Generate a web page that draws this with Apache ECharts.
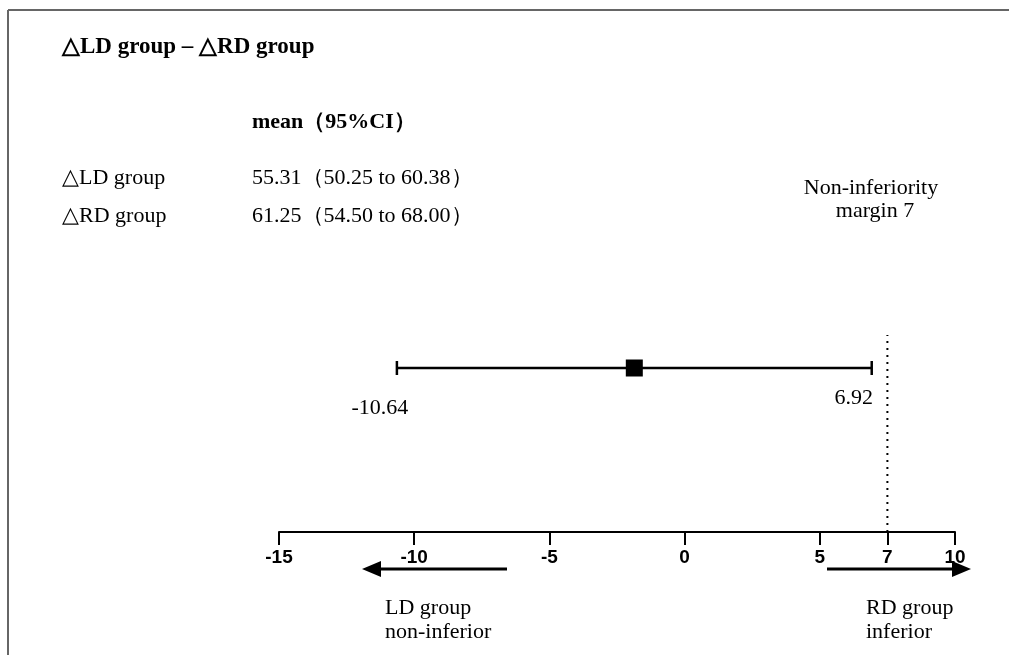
<!DOCTYPE html>
<html>
<head>
<meta charset="utf-8">
<script src="https://cdn.jsdelivr.net/npm/echarts@6/dist/echarts.min.js"></script>
<style>
  html, body { margin: 0; padding: 0; background: #fff; }
  #chart { width: 1009px; height: 655px; }
</style>
</head>
<body>
<div id="chart"></div>
<script>
// difference of the two group means, with its 95% CI
const meanDiff = -1.86;
const ciLow = -10.64;
const ciHigh = 6.92;
// the source draws the margin line a little right of 7 on the scale
const marginLabel = '7';
const marginPos = 7.5;
const tickValues = [-15, -10, -5, 0, 5, marginPos, 10];

const rowLabels = ['△LD group', '△RD group'];
const rowValues = ['55.31（50.25 to 60.38）', '61.25（54.50 to 68.00）'];

const rowY = 0.82; // height of the CI bar inside the plot

const chart = echarts.init(document.getElementById('chart'));
const serif = '"Liberation Serif", "Times New Roman", serif';

const textEl = (text, x, y, opts) => ({
  type: 'text',
  style: Object.assign({
    text: text, x: x, y: y,
    font: '22px ' + serif,
    fill: '#000',
    textVerticalAlign: 'middle'
  }, opts || {})
});

const option = {
  animation: false,
  backgroundColor: '#fff',
  grid: { left: 279, right: 54, top: 332, bottom: 123 },
  xAxis: {
    type: 'value',
    min: -15,
    max: 10,
    interval: 5,
    splitLine: { show: false },
    axisLine: { onZero: false, lineStyle: { color: '#000', width: 2 } },
    axisTick: { show: true, length: 13, customValues: tickValues, lineStyle: { color: '#000', width: 2 } },
    axisLabel: {
      customValues: tickValues,
      margin: 16,
      color: '#000',
      fontFamily: '"Liberation Sans", Arial, sans-serif',
      fontWeight: 'bold',
      fontSize: 19,
      formatter: v => (v === marginPos ? marginLabel : String(v))
    }
  },
  yAxis: { type: 'value', min: 0, max: 1, show: false },
  series: [
    {
      type: 'custom',
      data: [[ciLow, ciHigh, rowY]],
      renderItem: (params, api) => {
        const a = api.coord([api.value(0), api.value(2)]);
        const b = api.coord([api.value(1), api.value(2)]);
        const st = { stroke: '#000', lineWidth: 2.5 };
        return {
          type: 'group',
          children: [
            { type: 'line', shape: { x1: a[0], y1: a[1], x2: b[0], y2: b[1] }, style: st },
            { type: 'line', shape: { x1: a[0], y1: a[1] - 7, x2: a[0], y2: a[1] + 7 }, style: st },
            { type: 'line', shape: { x1: b[0], y1: b[1] - 7, x2: b[0], y2: b[1] + 7 }, style: st }
          ]
        };
      }
    },
    {
      type: 'scatter',
      symbol: 'rect',
      symbolSize: 17,
      itemStyle: { color: '#000', opacity: 1 },
      data: [[meanDiff, rowY]],
      z: 5
    },
    {
      type: 'scatter',
      symbolSize: 0,
      itemStyle: { opacity: 1 },
      data: [
        { value: [ciLow, rowY], label: { offset: [-17, 40] } },
        { value: [ciHigh, rowY], label: { offset: [-18, 30] } }
      ],
      label: {
        show: true,
        position: 'inside',
        formatter: p => p.value[0].toFixed(2),
        color: '#000',
        opacity: 1,
        fontFamily: serif,
        fontSize: 22
      }
    },
    {
      type: 'line',
      symbol: 'none',
      data: [[marginPos, 0], [marginPos, 0.985]],
      lineStyle: { color: '#000', width: 2, type: [2, 5] }
    }
  ],
  graphic: [
    { type: 'line', shape: { x1: 8, y1: 10, x2: 1009, y2: 10 }, style: { stroke: '#666', lineWidth: 2 } },
    { type: 'line', shape: { x1: 8, y1: 10, x2: 8, y2: 655 }, style: { stroke: '#666', lineWidth: 2 } },

    textEl('△LD group – △RD group', 62, 47, { font: 'bold 23px ' + serif }),
    textEl('mean（95%CI）', 252, 122, { font: 'bold 22px ' + serif }),
    textEl(rowLabels[0], 62, 178),
    textEl(rowLabels[1], 62, 216),
    textEl(rowValues[0], 252, 178),
    textEl(rowValues[1], 252, 216),

    textEl('Non-inferiority', 871, 188, { textAlign: 'center' }),
    textEl('margin ' + marginLabel, 875, 211, { textAlign: 'center' }),

    // direction arrows
    { type: 'line', shape: { x1: 507, y1: 569, x2: 376, y2: 569 }, style: { stroke: '#000', lineWidth: 3 } },
    { type: 'polygon', shape: { points: [[362, 569], [381, 561], [381, 577]] }, style: { fill: '#000' } },
    { type: 'line', shape: { x1: 827, y1: 569, x2: 956, y2: 569 }, style: { stroke: '#000', lineWidth: 3 } },
    { type: 'polygon', shape: { points: [[971, 569], [952, 561], [952, 577]] }, style: { fill: '#000' } },

    textEl('LD group', 385, 608),
    textEl('non-inferior', 385, 632),
    textEl('RD group', 866, 608),
    textEl('inferior', 866, 632)
  ]
};

chart.setOption(option);
</script>
</body>
</html>
